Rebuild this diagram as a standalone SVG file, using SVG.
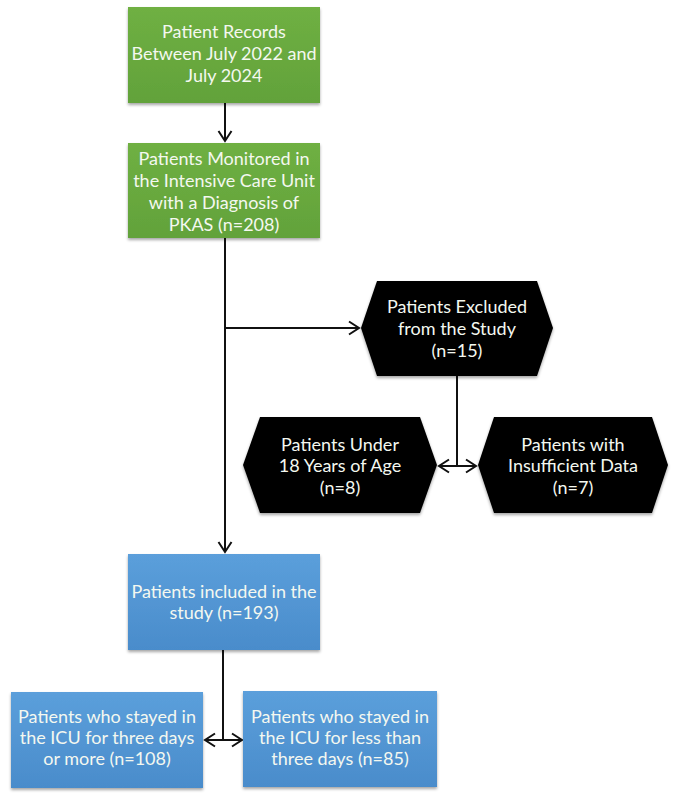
<svg xmlns="http://www.w3.org/2000/svg" width="678" height="796" viewBox="0 0 678 796">
<style>
.t{font-family:Lato,"Open Sans","Liberation Sans",sans-serif;font-size:18px;fill:#f4f8f0;text-anchor:middle}
.c{stroke:#111;stroke-width:2;fill:none}
</style>
<defs>
<linearGradient id="g" x1="0" y1="0" x2="0" y2="1"><stop offset="0" stop-color="#6fb043"/><stop offset="1" stop-color="#62a23a"/></linearGradient>
<linearGradient id="b" x1="0" y1="0" x2="0" y2="1"><stop offset="0" stop-color="#5b9fdb"/><stop offset="1" stop-color="#4a8ccb"/></linearGradient>
<filter id="s" x="-10%" y="-10%" width="120%" height="125%"><feDropShadow dx="0" dy="2" stdDeviation="1.5" flood-color="#000" flood-opacity="0.35"/></filter>
<marker id="a" viewBox="0 0 14 16" refX="12" refY="8" markerWidth="14" markerHeight="16" markerUnits="userSpaceOnUse" orient="auto-start-reverse"><path d="M2,1.5 L12,8 L2,14.5" fill="none" stroke="#111" stroke-width="2"/></marker>
</defs>
<rect width="678" height="796" fill="#fff"/>
<g id="connectors">
<line class="c" x1="225" y1="103" x2="225" y2="141" marker-end="url(#a)"/>
<line class="c" x1="225" y1="238" x2="225" y2="552" marker-end="url(#a)"/>
<line class="c" x1="225" y1="328" x2="359" y2="328" marker-end="url(#a)"/>
<line class="c" x1="457" y1="376" x2="457" y2="466"/>
<line class="c" x1="439" y1="466" x2="476" y2="466" marker-start="url(#a)" marker-end="url(#a)"/>
<line class="c" x1="223" y1="650" x2="223" y2="740"/>
<line class="c" x1="205" y1="740" x2="242" y2="740" marker-start="url(#a)" marker-end="url(#a)"/>
</g>
<g id="n1"><rect x="128" y="7" width="192" height="96" fill="url(#g)" filter="url(#s)"/>
<text class="t" x="224" y="38">Patient Records</text><text class="t" x="224" y="60">Between July 2022 and</text><text class="t" x="224" y="82">July 2024</text></g>
<g id="n2"><rect x="128" y="143" width="192" height="95" fill="url(#g)" filter="url(#s)"/>
<text class="t" x="224" y="165">Patients Monitored in</text><text class="t" x="224" y="187">the Intensive Care Unit</text><text class="t" x="224" y="209">with a Diagnosis of</text><text class="t" x="224" y="231">PKAS (n=208)</text></g>
<g id="n3"><polygon points="361,328 377,281 537,281 553,328 537,376 377,376" fill="#000" filter="url(#s)"/>
<text class="t" x="457" y="313">Patients Excluded</text><text class="t" x="457" y="335">from the Study</text><text class="t" x="457" y="357">(n=15)</text></g>
<g id="n4"><polygon points="243,465 260,417 420,417 437,465 420,513 260,513" fill="#000" filter="url(#s)"/>
<text class="t" x="340" y="451">Patients Under</text><text class="t" x="340" y="472">18 Years of Age</text><text class="t" x="340" y="494">(n=8)</text></g>
<g id="n5"><polygon points="478,465 494,417 652,417 668,465 652,513 494,513" fill="#000" filter="url(#s)"/>
<text class="t" x="573" y="451">Patients with</text><text class="t" x="573" y="472">Insufficient Data</text><text class="t" x="573" y="494">(n=7)</text></g>
<g id="n6"><rect x="128" y="554" width="192" height="96" fill="url(#b)" filter="url(#s)"/>
<text class="t" x="224" y="598">Patients included in the</text><text class="t" x="224" y="619">study (n=193)</text></g>
<g id="n7"><rect x="11" y="692" width="192" height="96" fill="url(#b)" filter="url(#s)"/>
<text class="t" x="107" y="723">Patients who stayed in</text><text class="t" x="107" y="744">the ICU for three days</text><text class="t" x="107" y="765">or more (n=108)</text></g>
<g id="n8"><rect x="243" y="691" width="194" height="96" fill="url(#b)" filter="url(#s)"/>
<text class="t" x="340" y="723">Patients who stayed in</text><text class="t" x="340" y="744">the ICU for less than</text><text class="t" x="340" y="765">three days (n=85)</text></g>
</svg>
